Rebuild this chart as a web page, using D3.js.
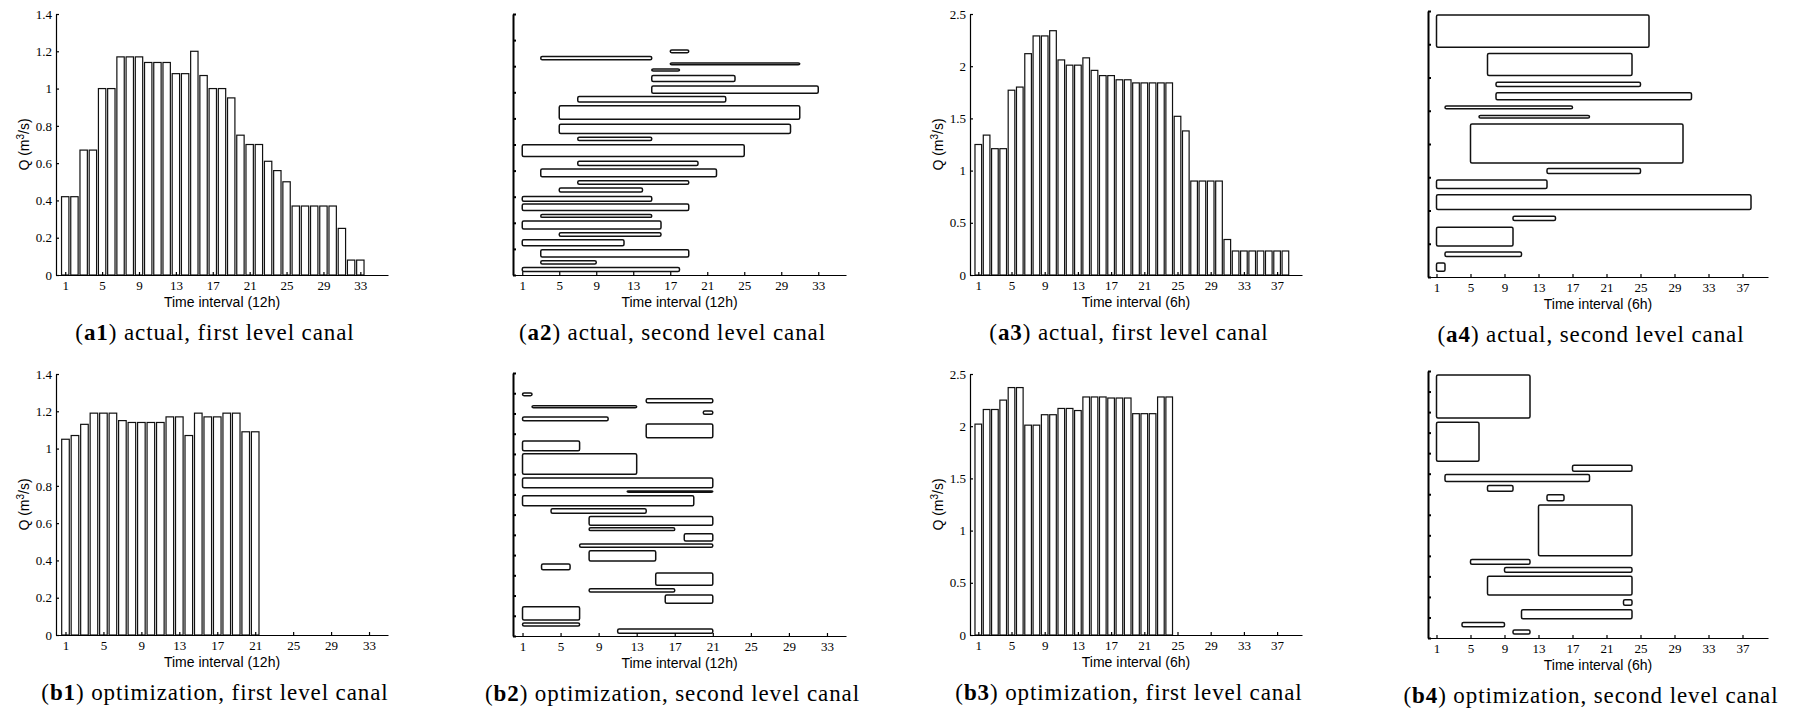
<!DOCTYPE html>
<html>
<head>
<meta charset="utf-8">
<script src="https://cdn.jsdelivr.net/npm/d3@7/dist/d3.min.js"></script>
<style>
  body { margin: 0; background: #fff; }
</style>
</head>
<body>
<svg id="chart" width="1795" height="709"></svg>
<script>
// bar values (m3/s)
const a1Values = [0.42, 0.42, 0.67, 0.67, 1.0, 1.0, 1.17, 1.17, 1.17, 1.14, 1.14, 1.14, 1.08, 1.08, 1.2, 1.07,
  1.0, 1.0, 0.95, 0.75, 0.7, 0.7, 0.61, 0.56, 0.5, 0.37, 0.37, 0.37, 0.37, 0.37, 0.25, 0.08, 0.08];
const b1Values = [1.05, 1.07, 1.13, 1.19, 1.19, 1.19, 1.15, 1.14, 1.14, 1.14, 1.14, 1.17, 1.17, 1.07, 1.19,
  1.17, 1.17, 1.19, 1.19, 1.09, 1.09];
const a3Values = [1.25, 1.34, 1.21, 1.21, 1.77, 1.8, 2.12, 2.29, 2.29, 2.34, 2.06, 2.01, 2.01, 2.08, 1.96,
  1.91, 1.91, 1.87, 1.87, 1.84, 1.84, 1.84, 1.84, 1.84, 1.52, 1.38, 0.9, 0.9, 0.9, 0.9, 0.34,
  0.23, 0.23, 0.23, 0.23, 0.23, 0.23, 0.23];
const b3Values = [2.02, 2.16, 2.16, 2.25, 2.37, 2.37, 2.01, 2.01, 2.11, 2.11, 2.17, 2.17, 2.15, 2.28, 2.28,
  2.28, 2.27, 2.27, 2.27, 2.12, 2.12, 2.12, 2.28, 2.28];

// second level canals: [start interval, end interval, lower level, upper level]
const a2Canals = [
  [17, 19, 8.52, 8.62], [3, 15, 8.25, 8.37], [17, 31, 8.06, 8.12], [15, 18, 7.82, 7.89],
  [15, 24, 7.41, 7.64], [15, 33, 6.96, 7.24], [7, 23, 6.63, 6.84], [5, 31, 5.97, 6.48],
  [5, 30, 5.42, 5.78], [7, 15, 5.15, 5.28], [1, 25, 4.54, 4.99], [7, 20, 4.20, 4.36],
  [3, 22, 3.76, 4.06], [7, 19, 3.48, 3.61], [5, 14, 3.18, 3.33], [1, 15, 2.83, 3.01],
  [1, 19, 2.47, 2.72], [3, 15, 2.21, 2.32], [1, 16, 1.76, 2.07], [5, 16, 1.48, 1.62],
  [1, 12, 1.12, 1.35], [3, 19, 0.69, 0.97], [3, 9, 0.42, 0.55], [1, 18, 0.13, 0.29]
];
const b2Canals = [
  [1, 2, 11.88, 12.01], [14, 21, 11.53, 11.73], [2, 13, 11.28, 11.38], [20, 21, 10.96, 11.12],
  [1, 10, 10.64, 10.83], [14, 21, 9.80, 10.48], [1, 7, 9.16, 9.64], [1, 13, 7.99, 9.01],
  [1, 21, 7.33, 7.81], [12, 21, 7.11, 7.17], [1, 19, 6.44, 6.93], [4, 14, 6.07, 6.29],
  [8, 21, 5.48, 5.91], [8, 17, 5.21, 5.35], [18, 21, 4.70, 5.05], [7, 21, 4.39, 4.55],
  [8, 15, 3.71, 4.22], [3, 6, 3.28, 3.56], [15, 21, 2.51, 3.12], [8, 17, 2.18, 2.34],
  [16, 21, 1.62, 2.03], [1, 7, 0.79, 1.45], [1, 7, 0.50, 0.64], [11, 21, 0.13, 0.35]
];
const a4Canals = [
  [1, 26, 6.91, 7.88], [7, 24, 6.06, 6.72], [8, 25, 5.73, 5.86], [8, 31, 5.33, 5.54],
  [2, 17, 5.06, 5.14], [6, 19, 4.78, 4.86], [5, 30, 3.43, 4.60], [14, 25, 3.11, 3.26],
  [1, 14, 2.66, 2.92], [1, 38, 2.03, 2.47], [10, 15, 1.70, 1.83], [1, 10, 0.93, 1.50],
  [2, 11, 0.62, 0.75], [1, 2, 0.17, 0.42]
];
const b4Canals = [
  [1, 12, 10.71, 12.80], [1, 6, 8.61, 10.50], [17, 24, 8.12, 8.41], [2, 19, 7.62, 7.96],
  [7, 10, 7.14, 7.43], [14, 16, 6.68, 6.97], [13, 24, 4.00, 6.47], [5, 12, 3.59, 3.82],
  [9, 24, 3.20, 3.43], [7, 24, 2.09, 3.01], [23, 24, 1.59, 1.86], [11, 24, 0.94, 1.38],
  [4, 9, 0.55, 0.76], [10, 12, 0.19, 0.39]
];

// tick labels
const q1Ticks = [0, 0.2, 0.4, 0.6, 0.8, 1, 1.2, 1.4];
const q3Ticks = [0, 0.5, 1, 1.5, 2, 2.5];
const ticks12h = [1, 5, 9, 13, 17, 21, 25, 29, 33];
const ticks6h = [1, 5, 9, 13, 17, 21, 25, 29, 33, 37];

const svg = d3.select("#chart");
const serif = "'Liberation Serif', 'Times New Roman', serif";
const sans = "'Liberation Sans', Arial, sans-serif";

const panels = [
  {type: "bar", values: a1Values, x0: 56, x1: 388, y0: 14, y1: 275, xMax: 36, yMax: 1.4, yTicks: q1Ticks,
    xTicks: ticks12h, xLabel: "Time interval (12h)", tag: "a1", caption: " actual, first level canal"},
  {type: "gantt", values: a2Canals, x0: 513, x1: 846, y0: 14, y1: 275, xMax: 36, yMax: 10,
    xTicks: ticks12h, xLabel: "Time interval (12h)", tag: "a2", caption: " actual, second level canal"},
  {type: "bar", values: a3Values, x0: 970, x1: 1302, y0: 14, y1: 275, xMax: 40, yMax: 2.5, yTicks: q3Ticks,
    xTicks: ticks6h, xLabel: "Time interval (6h)", tag: "a3", caption: " actual, first level canal"},
  {type: "gantt", values: a4Canals, x0: 1428, x1: 1768, y0: 11, y1: 277, xMax: 40, yMax: 8,
    xTicks: ticks6h, xLabel: "Time interval (6h)", tag: "a4", caption: " actual, second level canal"},
  {type: "bar", values: b1Values, x0: 56, x1: 388, y0: 374, y1: 635, xMax: 35, yMax: 1.4, yTicks: q1Ticks,
    xTicks: ticks12h, xLabel: "Time interval (12h)", tag: "b1", caption: " optimization, first level canal"},
  {type: "gantt", values: b2Canals, x0: 513, x1: 846, y0: 373, y1: 636, xMax: 35, yMax: 13,
    xTicks: ticks12h, xLabel: "Time interval (12h)", tag: "b2", caption: " optimization, second level canal"},
  {type: "bar", values: b3Values, x0: 970, x1: 1302, y0: 374, y1: 635, xMax: 40, yMax: 2.5, yTicks: q3Ticks,
    xTicks: ticks6h, xLabel: "Time interval (6h)", tag: "b3", caption: " optimization, first level canal"},
  {type: "gantt", values: b4Canals, x0: 1428, x1: 1768, y0: 371, y1: 638, xMax: 40, yMax: 13,
    xTicks: ticks6h, xLabel: "Time interval (6h)", tag: "b4", caption: " optimization, second level canal"}
];

panels.forEach(p => {
  const g = svg.append("g");
  const x = d3.scaleLinear().domain([0, p.xMax]).range([p.x0, p.x1]);
  const y = d3.scaleLinear().domain([0, p.yMax]).range([p.y1, p.y0]);

  if (p.type === "bar") {
    g.selectAll("rect.bar").data(p.values).join("rect")
      .attr("class", "bar")
      .attr("x", (d, i) => x(i + 1 - 0.4))
      .attr("width", x(0.8) - x(0))
      .attr("y", d => y(d))
      .attr("height", d => y(0) - y(d))
      .attr("fill", "#fff")
      .attr("stroke", "#111")
      .attr("stroke-width", 1.2);
  } else {
    g.selectAll("rect.canal").data(p.values).join("rect")
      .attr("class", "canal")
      .attr("x", d => x(d[0]))
      .attr("width", d => x(d[1]) - x(d[0]))
      .attr("y", d => y(d[3]))
      .attr("height", d => y(d[2]) - y(d[3]))
      .attr("rx", 1.5)
      .attr("fill", "#fff")
      .attr("stroke", "#111")
      .attr("stroke-width", 1.5);
  }

  // x axis
  const xAxis = g.append("g")
    .attr("transform", `translate(0,${p.y1})`)
    .call(d3.axisBottom(x).tickValues(p.xTicks).tickSizeInner(-3).tickSizeOuter(0).tickPadding(6));
  xAxis.selectAll("text").attr("font-family", serif).attr("font-size", 13).attr("fill", "#000");
  xAxis.selectAll("path, line").attr("stroke", "#000").attr("stroke-width", 1.2);

  // y axis
  let yAxis;
  if (p.type === "bar") {
    yAxis = g.append("g")
      .attr("transform", `translate(${p.x0},0)`)
      .call(d3.axisLeft(y).tickValues(p.yTicks).tickFormat(d => d).tickSizeInner(-3).tickSizeOuter(0).tickPadding(4));
    yAxis.selectAll("text").attr("font-family", serif).attr("font-size", 13).attr("fill", "#000");
    yAxis.selectAll("path, line").attr("stroke", "#000").attr("stroke-width", 1.2);

    const yl = g.append("text")
      .attr("transform", `translate(${p.x0 - 27},${(p.y0 + p.y1) / 2}) rotate(-90)`)
      .attr("text-anchor", "middle")
      .attr("font-family", sans)
      .attr("font-size", 14);
    yl.append("tspan").text("Q (m");
    yl.append("tspan").attr("dy", -5).attr("font-size", 10).text("3");
    yl.append("tspan").attr("dy", 5).text("/s)");
  } else {
    yAxis = g.append("g")
      .attr("transform", `translate(${p.x0},0)`)
      .call(d3.axisLeft(y).tickValues(d3.range(0, p.yMax + 1)).tickFormat("").tickSizeInner(-3).tickSizeOuter(0));
    yAxis.selectAll("path, line").attr("stroke", "#000").attr("stroke-width", 2);
  }

  // axis title
  g.append("text")
    .attr("x", (p.x0 + p.x1) / 2)
    .attr("y", p.y1 + 32)
    .attr("text-anchor", "middle")
    .attr("font-family", sans)
    .attr("font-size", 14)
    .text(p.xLabel);

  // sub-caption
  const cap = g.append("text")
    .attr("x", (p.x0 + p.x1) / 2 - 7)
    .attr("y", p.y1 + 65)
    .attr("text-anchor", "middle")
    .attr("font-family", serif)
    .attr("font-size", 23)
    .attr("letter-spacing", 0.9);
  cap.append("tspan").text("(");
  cap.append("tspan").attr("font-weight", "bold").text(p.tag);
  cap.append("tspan").text(")" + p.caption);
});
</script>
</body>
</html>
